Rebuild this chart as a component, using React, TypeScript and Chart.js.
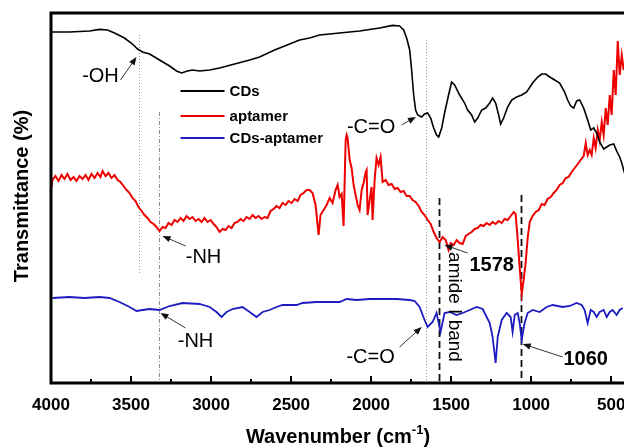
import React, { useEffect, useRef } from 'react';
import { Chart, registerables } from 'chart.js';

Chart.register(...registerables);

const FONT = "'Liberation Sans', Arial, sans-serif";

// ---- data (wavenumber in cm^-1, transmittance in arbitrary offset units) ----
const cdsWavenumber = [3997, 3884, 3759, 3697, 3647, 3603, 3541, 3491, 3459, 3428, 3384, 3322, 3259, 3216, 3184, 3147, 3116, 3072, 3009, 2947, 2853, 2759, 2697, 2603, 2509, 2447, 2384, 2322, 2197, 2072, 1947, 1866, 1822, 1797, 1778, 1759, 1747, 1734, 1722, 1709, 1684, 1666, 1647, 1628, 1609, 1591, 1578, 1559, 1541, 1516, 1497, 1478, 1447, 1416, 1397, 1372, 1353, 1334, 1309, 1284, 1259, 1241, 1222, 1203, 1191, 1172, 1147, 1122, 1091, 1059, 1028, 991, 959, 934, 909, 884, 853, 822, 791, 772, 753, 734, 716, 697, 672, 647, 628, 609, 591, 572, 547, 528, 509, 484, 466, 447, 434, 422, 409];
const cdsValues = [175.5, 175.5, 176, 176.8, 176.5, 175, 172.5, 169.5, 167, 165.5, 164.5, 161.5, 158.5, 156, 155, 156, 156.5, 156, 156.5, 157.5, 159.5, 161.5, 163, 166.5, 169.5, 171.5, 172.5, 174, 175, 176, 177.5, 178.8, 178.5, 176.5, 172.5, 166.5, 156.5, 144, 136.5, 134, 133, 134.5, 135, 132.5, 127.5, 124, 123, 127.5, 135, 144, 150.5, 149, 144, 140, 136.5, 134, 130.5, 132.5, 136.5, 137.5, 140, 142.5, 140, 134, 129.5, 132.5, 138, 141.5, 143, 144, 145.5, 150, 153, 154.5, 154.5, 153, 151.5, 150, 145.5, 141.5, 138.5, 137.5, 141, 141.5, 137.5, 131.5, 126.5, 127.5, 125, 120.5, 117, 118, 119, 119.5, 116, 113, 110, 106.5, 103];

const aptamerWavenumber = [3997, 3991, 3972, 3953, 3934, 3916, 3897, 3878, 3859, 3841, 3822, 3803, 3784, 3766, 3747, 3728, 3709, 3691, 3678, 3659, 3641, 3622, 3603, 3584, 3566, 3547, 3528, 3509, 3491, 3472, 3453, 3434, 3416, 3397, 3378, 3359, 3341, 3322, 3303, 3284, 3266, 3247, 3228, 3209, 3191, 3172, 3153, 3134, 3116, 3097, 3078, 3059, 3041, 3022, 3003, 2984, 2966, 2947, 2928, 2909, 2891, 2872, 2853, 2834, 2816, 2797, 2778, 2759, 2741, 2722, 2703, 2684, 2666, 2647, 2628, 2609, 2591, 2572, 2553, 2534, 2516, 2497, 2478, 2459, 2441, 2422, 2403, 2384, 2366, 2347, 2328, 2316, 2297, 2278, 2259, 2241, 2222, 2209, 2197, 2184, 2172, 2159, 2153, 2147, 2134, 2122, 2109, 2097, 2084, 2072, 2059, 2047, 2034, 2028, 2022, 2009, 1997, 1991, 1978, 1966, 1953, 1941, 1928, 1909, 1891, 1872, 1853, 1834, 1816, 1797, 1778, 1759, 1741, 1722, 1703, 1684, 1666, 1647, 1628, 1609, 1591, 1572, 1553, 1534, 1516, 1503, 1484, 1466, 1447, 1428, 1409, 1391, 1372, 1353, 1334, 1316, 1297, 1278, 1259, 1241, 1222, 1203, 1184, 1166, 1147, 1128, 1109, 1097, 1084, 1072, 1059, 1047, 1034, 1022, 1009, 991, 972, 953, 934, 916, 897, 878, 859, 841, 822, 803, 784, 766, 747, 728, 709, 691, 672, 659, 647, 634, 622, 609, 597, 584, 572, 559, 547, 534, 522, 509, 497, 484, 472, 459, 447, 434, 422];
const aptamerValues = [98, 101.5, 103.5, 101, 104, 102, 104.5, 101.5, 103, 101, 103.5, 102, 104, 101.5, 104.5, 102.5, 105, 103, 106, 103.5, 105, 102.5, 104, 101.5, 100.5, 98.5, 96.5, 95, 92.5, 91, 88, 86, 84, 82.5, 80.5, 79.5, 78, 76, 78, 77.5, 80, 79, 81.5, 80.5, 82.5, 81, 83.5, 82, 83, 81, 82, 80.5, 82.5, 80.5, 81.5, 79.5, 78, 75.5, 77, 76.5, 78.5, 77.5, 80, 80.5, 82, 81, 83, 82, 84, 82.5, 83.5, 82, 83, 82.5, 86, 87, 88.5, 87.5, 90, 89, 91, 90, 92, 91, 94, 95, 96.5, 96.5, 95, 89, 74, 84, 86.5, 89, 92.5, 90, 96.5, 99, 93, 94.5, 78.5, 121.5, 124, 122.5, 111.5, 107.5, 99, 94, 89, 86.5, 96.5, 100, 105.5, 106.5, 84, 91.5, 98, 81.5, 101.5, 112.5, 109, 113, 100.5, 101.5, 99, 99.5, 97, 97.5, 95.5, 96, 93.5, 93.5, 91.5, 90.5, 88.5, 85.5, 84, 81.5, 79.5, 75.5, 72.5, 70.5, 73, 71.5, 66.5, 70, 69, 71.5, 70, 69.5, 73.5, 74.5, 75.5, 77, 77.5, 79, 78.5, 80, 79, 80.5, 79.5, 81, 80, 82, 81.5, 83.5, 85.5, 84.5, 71.5, 58, 44.5, 51.5, 60.5, 72.5, 80.5, 83.5, 85.5, 86.5, 89.5, 89, 92, 93, 95, 96.5, 99, 100, 102.5, 103, 105.5, 107.5, 109.5, 111.5, 113.5, 120, 114, 116.5, 114, 122.5, 117.5, 126.5, 121.5, 130.5, 124, 137.5, 129, 144, 134, 156.5, 144, 171, 154, 164, 156.5];

const mixWavenumber = [3991, 3884, 3791, 3697, 3634, 3572, 3509, 3466, 3428, 3384, 3322, 3259, 3178, 3072, 3009, 2966, 2934, 2903, 2866, 2803, 2759, 2716, 2678, 2634, 2591, 2553, 2466, 2428, 2341, 2259, 2197, 2153, 2091, 2009, 1947, 1841, 1759, 1728, 1697, 1666, 1647, 1616, 1591, 1566, 1541, 1509, 1466, 1428, 1384, 1341, 1303, 1278, 1259, 1241, 1222, 1209, 1184, 1153, 1128, 1116, 1103, 1084, 1072, 1059, 1041, 1022, 991, 947, 903, 866, 803, 759, 716, 684, 666, 647, 628, 609, 591, 572, 547, 528, 509, 491, 466, 447, 428];
const mixValues = [42.5, 43, 42.5, 43, 42.5, 40.5, 38, 36, 36.5, 37, 36.5, 38.5, 40, 39.5, 38, 35.5, 33, 35.5, 37, 38, 35.5, 33, 35.5, 36.5, 38, 39, 39, 40, 40.5, 40.5, 40.5, 42, 41.5, 42, 42, 42, 41.5, 41, 38, 31.5, 28, 30.5, 35, 25.5, 35, 35.5, 34, 35, 36.5, 38, 37, 33, 30, 23, 10, 23, 31.5, 35, 33, 25.5, 34, 35, 30, 21.5, 30, 35, 36.5, 35.5, 38, 39, 38, 38.5, 40, 39, 36.5, 30, 36.5, 35.5, 33, 35.5, 36.5, 33, 35.5, 36.5, 34, 36.5, 37.5];

const seriesLabels = ['CDs', 'aptamer', 'CDs-aptamer'];
const seriesColors = ['#000000', '#ee0000', '#1c1cc0'];

const xMajorTicks = [4000, 3500, 3000, 2500, 2000, 1500, 1000, 500];
const xMinorTicks = [3750, 3250, 2750, 2250, 1750, 1250, 750];

// annotation positions in data units (wavenumber, value)
const markerLines = [
  { wn: 3450, from: 54, to: 174, kind: 'dot' },
  { wn: 3325, from: 0, to: 135.5, kind: 'dashdot' },
  { wn: 1660, from: 0, to: 171.5, kind: 'dot' },
  { wn: 1578, from: 0, to: 92.5, kind: 'dash' },
  { wn: 1062, from: 0, to: 94, kind: 'dash' },
];
const noteTexts = [
  { text: '-OH', wn: 3691, v: 153.5, bold: false },
  { text: '-C=O', wn: 2000, v: 128, bold: false },
  { text: '-NH', wn: 3047, v: 63, bold: false },
  { text: '-NH', wn: 3097, v: 21, bold: false },
  { text: '-C=O', wn: 2003, v: 13, bold: false },
  { text: '1578', wn: 1247, v: 59, bold: true },
  { text: '1060', wn: 659, v: 12, bold: true },
];
const rotatedNote = { text: 'amide I band', wn: 1478, v: 38 };
const noteArrows = [
  { x1: 3566, y1: 151.5, x2: 3466, y2: 163 },
  { x1: 1810, y1: 129, x2: 1720, y2: 133 },
  { x1: 3159, y1: 68.5, x2: 3303, y2: 73.5 },
  { x1: 3159, y1: 27.5, x2: 3316, y2: 35 },
  { x1: 1822, y1: 18, x2: 1684, y2: 28 },
  { x1: 1397, y1: 65, x2: 1541, y2: 69 },
  { x1: 803, y1: 13, x2: 1053, y2: 19.5 },
];
const legendLineStart = 3191;
const legendLineEnd = 2916;
const legendTextStart = 2884;
const legendRows = [146, 133.5, 122.5];

const annotationPlugin = {
  id: 'ftirAnnotations',
  beforeDatasetsDraw(chart: any) {
    const { ctx, scales } = chart;
    const x = scales.x;
    const y = scales.y;
    ctx.save();
    markerLines.forEach((l) => {
      const px = Math.round(x.getPixelForValue(l.wn)) + 0.5;
      ctx.beginPath();
      if (l.kind === 'dot') {
        ctx.strokeStyle = '#9a9a9a';
        ctx.lineWidth = 1;
        ctx.setLineDash([1, 2]);
      } else if (l.kind === 'dashdot') {
        ctx.strokeStyle = '#8a8a8a';
        ctx.lineWidth = 1;
        ctx.setLineDash([4, 2, 1, 2]);
      } else {
        ctx.strokeStyle = '#111';
        ctx.lineWidth = 1.8;
        ctx.setLineDash([7, 4]);
      }
      ctx.moveTo(px, y.getPixelForValue(l.to));
      ctx.lineTo(px, y.getPixelForValue(l.from));
      ctx.stroke();
    });
    ctx.restore();
  },
  afterDraw(chart: any) {
    const { ctx, chartArea, scales } = chart;
    const x = scales.x;
    const y = scales.y;
    ctx.save();
    ctx.setLineDash([]);

    // frame
    ctx.strokeStyle = '#000';
    ctx.lineWidth = 3;
    ctx.beginPath();
    ctx.moveTo(chartArea.right + 2, chartArea.top);
    ctx.lineTo(chartArea.left, chartArea.top);
    ctx.lineTo(chartArea.left, chartArea.bottom);
    ctx.lineTo(chartArea.right + 2, chartArea.bottom);
    ctx.stroke();

    // inward ticks
    ctx.lineWidth = 2;
    xMajorTicks.forEach((t) => {
      const px = Math.round(x.getPixelForValue(t));
      ctx.beginPath();
      ctx.moveTo(px, chartArea.bottom);
      ctx.lineTo(px, chartArea.bottom - 7);
      ctx.stroke();
    });
    xMinorTicks.forEach((t) => {
      const px = Math.round(x.getPixelForValue(t));
      ctx.beginPath();
      ctx.moveTo(px, chartArea.bottom);
      ctx.lineTo(px, chartArea.bottom - 4);
      ctx.stroke();
    });

    // arrows
    noteArrows.forEach((a) => {
      const x1 = x.getPixelForValue(a.x1);
      const y1 = y.getPixelForValue(a.y1);
      const x2 = x.getPixelForValue(a.x2);
      const y2 = y.getPixelForValue(a.y2);
      const ang = Math.atan2(y2 - y1, x2 - x1);
      const hl = 8;
      const hw = 3.2;
      ctx.strokeStyle = '#333';
      ctx.fillStyle = '#111';
      ctx.lineWidth = 1;
      ctx.beginPath();
      ctx.moveTo(x1, y1);
      ctx.lineTo(x2 - Math.cos(ang) * hl * 0.8, y2 - Math.sin(ang) * hl * 0.8);
      ctx.stroke();
      ctx.beginPath();
      ctx.moveTo(x2, y2);
      ctx.lineTo(x2 - Math.cos(ang) * hl - Math.sin(ang) * hw, y2 - Math.sin(ang) * hl + Math.cos(ang) * hw);
      ctx.lineTo(x2 - Math.cos(ang) * hl + Math.sin(ang) * hw, y2 - Math.sin(ang) * hl - Math.cos(ang) * hw);
      ctx.closePath();
      ctx.fill();
    });

    // notes
    ctx.fillStyle = '#000';
    ctx.textAlign = 'center';
    ctx.textBaseline = 'middle';
    noteTexts.forEach((n) => {
      ctx.font = (n.bold ? 'bold ' : '') + '20px ' + FONT;
      ctx.fillText(n.text, x.getPixelForValue(n.wn), y.getPixelForValue(n.v));
    });
    ctx.save();
    ctx.translate(x.getPixelForValue(rotatedNote.wn), y.getPixelForValue(rotatedNote.v));
    ctx.rotate(Math.PI / 2);
    ctx.font = '19px ' + FONT;
    ctx.fillText(rotatedNote.text, 0, 0);
    ctx.restore();

    // legend
    seriesLabels.forEach((lab, i) => {
      const py = y.getPixelForValue(legendRows[i]);
      ctx.strokeStyle = seriesColors[i];
      ctx.lineWidth = 2;
      ctx.beginPath();
      ctx.moveTo(x.getPixelForValue(legendLineStart), py);
      ctx.lineTo(x.getPixelForValue(legendLineEnd), py);
      ctx.stroke();
      ctx.fillStyle = '#000';
      ctx.textAlign = 'left';
      ctx.font = 'bold 15px ' + FONT;
      ctx.fillText(lab, x.getPixelForValue(legendTextStart), py + 1);
    });

    // axis titles
    ctx.fillStyle = '#000';
    ctx.textBaseline = 'middle';
    ctx.save();
    ctx.translate(22, 196);
    ctx.rotate(-Math.PI / 2);
    ctx.textAlign = 'center';
    ctx.font = 'bold 20px ' + FONT;
    ctx.fillText('Transmittance (%)', 0, 0);
    ctx.restore();

    const main = 'Wavenumber (cm';
    const sup = '-1';
    const close = ')';
    ctx.font = 'bold 20px ' + FONT;
    const wMain = ctx.measureText(main).width;
    const wClose = ctx.measureText(close).width;
    ctx.font = 'bold 13px ' + FONT;
    const wSup = ctx.measureText(sup).width;
    const total = wMain + wSup + wClose;
    let sx = 338 - total / 2;
    const ty = 437;
    ctx.textAlign = 'left';
    ctx.font = 'bold 20px ' + FONT;
    ctx.fillText(main, sx, ty);
    sx += wMain;
    ctx.font = 'bold 13px ' + FONT;
    ctx.fillText(sup, sx, ty - 7);
    sx += wSup;
    ctx.font = 'bold 20px ' + FONT;
    ctx.fillText(close, sx, ty);
    ctx.restore();
  },
};

function toPoints(xs: number[], ys: number[]) {
  return xs.map((v, i) => ({ x: v, y: ys[i] }));
}

export default function App() {
  const canvasRef = useRef<HTMLCanvasElement | null>(null);

  useEffect(() => {
    if (!canvasRef.current) return;
    Chart.defaults.font.family = FONT;
    const chart = new Chart(canvasRef.current, {
      type: 'line',
      data: {
        datasets: [
          { label: seriesLabels[0], data: toPoints(cdsWavenumber, cdsValues), borderColor: seriesColors[0], borderWidth: 1.6 },
          { label: seriesLabels[1], data: toPoints(aptamerWavenumber, aptamerValues), borderColor: seriesColors[1], borderWidth: 2 },
          { label: seriesLabels[2], data: toPoints(mixWavenumber, mixValues), borderColor: seriesColors[2], borderWidth: 1.8 },
        ],
      },
      options: {
        animation: false,
        responsive: false,
        devicePixelRatio: 1,
        layout: { padding: { left: 51, top: 13, right: 0, bottom: 0 } },
        elements: { point: { radius: 0 }, line: { tension: 0 } },
        plugins: { legend: { display: false }, tooltip: { enabled: false } },
        scales: {
          x: {
            type: 'linear',
            reverse: true,
            min: 420,
            max: 4000,
            grid: { display: false, drawTicks: false },
            border: { display: false },
            afterBuildTicks: (s: any) => {
              s.ticks = xMajorTicks.map((v) => ({ value: v }));
            },
            afterFit: (s: any) => {
              s.height = 64;
              s.paddingLeft = 0;
              s.paddingRight = 0;
            },
            ticks: {
              padding: 12,
              maxRotation: 0,
              autoSkip: false,
              color: '#000',
              font: { size: 17, weight: 'bold' },
              callback: (v: any) => String(v),
            },
          },
          y: {
            type: 'linear',
            display: false,
            min: 0,
            max: 185,
          },
        },
      },
      plugins: [annotationPlugin],
    } as any);
    return () => chart.destroy();
  }, []);

  return (
    <div style={{ position: 'absolute', left: 0, top: 0, width: 624, height: 447, overflow: 'hidden', background: '#fff' }}>
      <canvas ref={canvasRef} width={624} height={447} />
    </div>
  );
}
